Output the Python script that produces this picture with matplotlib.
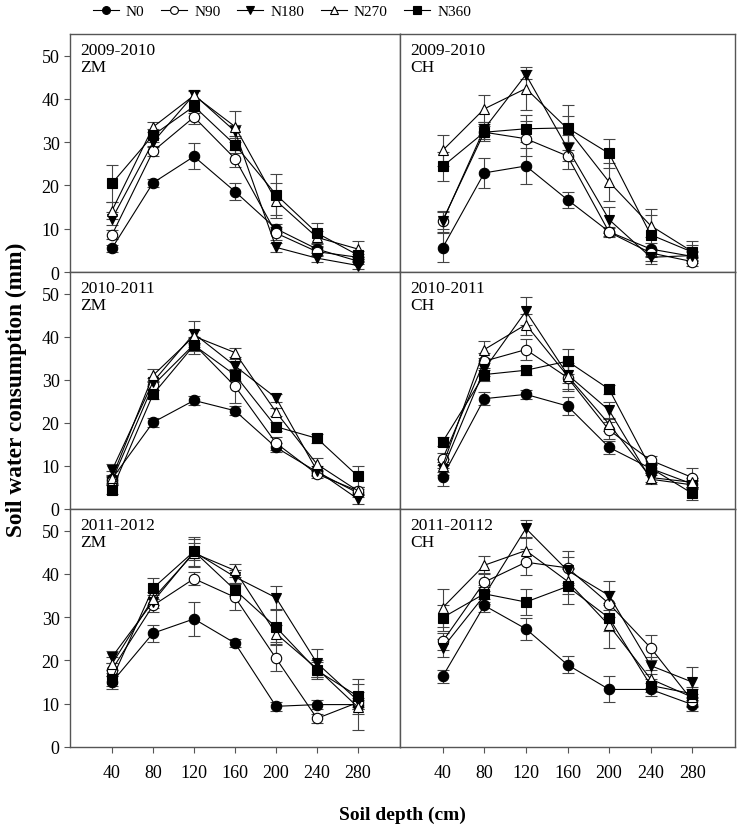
import matplotlib
matplotlib.use("Agg")
import matplotlib.pyplot as plt
import numpy as np

plt.rcParams['font.family'] = ['Liberation Serif', 'DejaVu Serif']

depth = [40, 80, 120, 160, 200, 240, 280]
series = ["N0", "N90", "N180", "N270", "N360"]

# ---- 2009-2010 ZM
p1_N0 = [5.5, 20.6, 26.7, 18.6, 10.0, 5.3, 2.5]
p1_N90 = [8.6, 27.9, 35.8, 26.2, 9.0, 4.7, 3.4]
p1_N180 = [12.3, 30.0, 41.0, 32.5, 5.7, 3.2, 1.5]
p1_N270 = [14.2, 33.5, 40.8, 33.6, 16.5, 8.0, 5.3]
p1_N360 = [20.5, 31.6, 38.3, 29.4, 17.9, 9.0, 3.9]
e1_N0 = [0.8, 1.0, 3.0, 2.0, 1.0, 0.8, 0.6]
e1_N90 = [1.0, 1.2, 1.5, 2.0, 1.5, 1.0, 0.8]
e1_N180 = [1.5, 1.0, 1.0, 1.5, 1.0, 0.8, 0.8]
e1_N270 = [2.0, 1.2, 1.0, 3.5, 4.0, 1.5, 1.8]
e1_N360 = [4.3, 1.5, 1.5, 2.0, 4.8, 2.3, 1.0]

# ---- 2009-2010 CH
p2_N0 = [5.6, 22.9, 24.5, 16.7, 9.3, 5.3, 3.6]
p2_N90 = [11.9, 32.3, 30.8, 26.8, 9.2, 4.4, 2.4]
p2_N180 = [11.7, 33.1, 45.6, 28.6, 12.1, 3.4, 3.8]
p2_N270 = [28.1, 37.7, 42.4, 33.1, 20.8, 10.7, 4.7]
p2_N360 = [24.4, 32.3, 33.1, 33.3, 27.4, 8.6, 4.6]
e2_N0 = [3.4, 3.4, 4.2, 1.8, 1.0, 1.5, 1.0]
e2_N90 = [2.0, 1.5, 4.0, 3.0, 1.0, 1.0, 1.0]
e2_N180 = [2.5, 1.5, 1.0, 3.0, 3.0, 1.5, 1.0]
e2_N270 = [3.5, 3.1, 5.0, 3.0, 4.5, 2.5, 1.5]
e2_N360 = [3.3, 2.0, 3.1, 5.2, 3.4, 6.0, 2.5]

# ---- 2010-2011 ZM
p3_N0 = [7.0, 20.1, 25.2, 22.8, 14.3, 8.6, 3.7]
p3_N90 = [6.6, 28.7, 38.2, 28.5, 15.3, 8.1, 4.2]
p3_N180 = [9.0, 29.5, 40.7, 33.2, 25.8, 8.9, 2.3]
p3_N270 = [7.3, 31.0, 40.1, 36.3, 22.5, 10.4, 4.2]
p3_N360 = [4.5, 26.6, 38.0, 31.1, 19.1, 16.4, 7.6]
e3_N0 = [1.0, 1.0, 1.0, 1.0, 1.0, 1.0, 1.0]
e3_N90 = [1.0, 1.0, 1.5, 3.8, 1.5, 1.0, 1.0]
e3_N180 = [1.5, 1.0, 3.0, 1.5, 1.0, 1.0, 1.2]
e3_N270 = [1.5, 1.5, 1.5, 1.0, 1.0, 1.5, 1.0]
e3_N360 = [1.0, 1.0, 2.0, 1.5, 1.0, 1.0, 2.4]

# ---- 2010-2011 CH
p4_N0 = [7.5, 25.6, 26.6, 23.9, 14.3, 9.4, 5.8]
p4_N90 = [11.6, 34.3, 37.0, 30.5, 18.3, 11.3, 7.3]
p4_N180 = [9.3, 32.4, 45.9, 31.2, 22.9, 6.9, 5.6]
p4_N270 = [10.0, 37.0, 42.8, 30.9, 19.7, 7.3, 6.2]
p4_N360 = [15.6, 31.2, 32.2, 34.3, 27.8, 9.5, 3.6]
e4_N0 = [2.1, 1.5, 1.0, 2.0, 1.5, 1.0, 1.0]
e4_N90 = [1.5, 2.0, 2.5, 3.0, 2.0, 1.0, 2.2]
e4_N180 = [1.5, 1.5, 3.3, 2.0, 2.0, 1.0, 1.0]
e4_N270 = [1.5, 2.0, 2.5, 3.0, 1.5, 1.0, 1.0]
e4_N360 = [1.0, 1.5, 1.0, 2.9, 1.0, 1.0, 1.5]

# ---- 2011-2012 ZM
p5_N0 = [15.0, 26.3, 29.6, 24.0, 9.4, 9.8, 9.8]
p5_N90 = [17.9, 32.7, 38.9, 34.6, 20.5, 6.6, 10.3]
p5_N180 = [20.8, 33.6, 45.1, 39.3, 34.5, 19.4, 10.7]
p5_N270 = [19.2, 34.3, 44.8, 40.8, 26.2, 18.1, 9.2]
p5_N360 = [15.7, 36.7, 45.2, 36.3, 27.7, 17.7, 11.7]
e5_N0 = [1.5, 2.0, 3.9, 1.0, 1.0, 1.0, 1.0]
e5_N90 = [1.5, 1.5, 1.5, 3.0, 3.0, 1.0, 1.0]
e5_N180 = [1.5, 1.5, 2.0, 1.5, 2.6, 3.3, 2.0]
e5_N270 = [1.5, 1.5, 3.3, 1.5, 2.0, 2.0, 5.3]
e5_N360 = [1.5, 2.4, 3.3, 1.5, 3.9, 2.0, 4.0]

# ---- 2011-20112 CH
p6_N0 = [16.3, 32.7, 27.3, 19.0, 13.3, 13.3, 9.8]
p6_N90 = [24.4, 38.1, 42.7, 41.4, 33.1, 22.9, 10.7]
p6_N180 = [22.9, 35.0, 50.5, 40.8, 35.0, 18.8, 15.0]
p6_N270 = [32.2, 42.0, 45.4, 38.3, 28.1, 15.7, 11.5]
p6_N360 = [29.9, 35.4, 33.5, 37.1, 29.8, 14.2, 12.3]
e6_N0 = [1.5, 1.5, 2.5, 2.0, 3.0, 1.5, 1.5]
e6_N90 = [2.0, 2.0, 3.0, 4.0, 3.0, 2.9, 1.5]
e6_N180 = [2.0, 2.0, 2.0, 3.0, 3.3, 2.0, 3.4]
e6_N270 = [4.4, 2.1, 3.0, 3.0, 5.2, 2.0, 2.0]
e6_N360 = [3.0, 2.0, 3.0, 4.0, 3.0, 1.5, 1.5]

panel_labels = ["2009-2010\nZM", "2009-2010\nCH", "2010-2011\nZM",
                "2010-2011\nCH", "2011-2012\nZM", "2011-20112\nCH"]
panel_values = [
    [p1_N0, p1_N90, p1_N180, p1_N270, p1_N360],
    [p2_N0, p2_N90, p2_N180, p2_N270, p2_N360],
    [p3_N0, p3_N90, p3_N180, p3_N270, p3_N360],
    [p4_N0, p4_N90, p4_N180, p4_N270, p4_N360],
    [p5_N0, p5_N90, p5_N180, p5_N270, p5_N360],
    [p6_N0, p6_N90, p6_N180, p6_N270, p6_N360],
]
panel_errors = [
    [e1_N0, e1_N90, e1_N180, e1_N270, e1_N360],
    [e2_N0, e2_N90, e2_N180, e2_N270, e2_N360],
    [e3_N0, e3_N90, e3_N180, e3_N270, e3_N360],
    [e4_N0, e4_N90, e4_N180, e4_N270, e4_N360],
    [e5_N0, e5_N90, e5_N180, e5_N270, e5_N360],
    [e6_N0, e6_N90, e6_N180, e6_N270, e6_N360],
]

markers = ['o', 'o', 'v', '^', 's']
faces = ['black', 'white', 'black', 'white', 'black']

W, H = 737, 829
fig = plt.figure(figsize=(W / 100, H / 100), dpi=100)

cols = [(70, 400), (400, 735)]
rows = [(35, 273), (273, 510), (510, 748)]
frame_col = '#555555'

handles = []
for i in range(6):
    r, c = divmod(i, 2)
    x0, x1 = cols[c]
    y0, y1 = rows[r]
    ax = fig.add_axes([x0 / W, 1 - y1 / H, (x1 - x0) / W, (y1 - y0) / H])
    for k in range(5):
        ax.errorbar(depth, panel_values[i][k], yerr=panel_errors[i][k],
                    fmt='none', ecolor='#444444', elinewidth=0.8,
                    capsize=4, capthick=0.8, zorder=2)
        ln, = ax.plot(depth, panel_values[i][k], color='black', lw=0.8,
                      marker=markers[k], markersize=7.5,
                      markerfacecolor=faces[k], markeredgecolor='black',
                      markeredgewidth=0.8, zorder=3 + k, label=series[k])
        if i == 0:
            handles.append(ln)
    ax.set_xlim(-1, 321)
    ax.set_ylim(0, 55)
    for sp in ax.spines.values():
        sp.set_color(frame_col)
        sp.set_linewidth(1.0)
    ax.text(0.03, 0.965, panel_labels[i], transform=ax.transAxes,
            ha='left', va='top', fontsize=12.5, linespacing=1.05)
    if c == 0:
        ax.set_yticks([0, 10, 20, 30, 40, 50])
        ax.tick_params(axis='y', direction='out', length=4, color=frame_col,
                       labelsize=13)
    else:
        ax.set_yticks([])
    if r == 2:
        ax.set_xticks(depth)
        ax.tick_params(axis='x', direction='out', length=4, color=frame_col,
                       labelsize=13, pad=8)
    else:
        ax.set_xticks([])

fig.legend(handles=handles, labels=series, loc='center', ncol=5,
           bbox_to_anchor=(282 / W, 1 - 12 / H), frameon=False,
           fontsize=11, handlelength=1.7, handletextpad=0.45,
           columnspacing=1.1, markerscale=0.75)

fig.text(16 / W, 1 - 390 / H, "Soil water consumption (mm)", rotation=90,
         ha='center', va='center', fontsize=16.8, fontweight='bold')
fig.text(402 / W, 1 - 815 / H, "Soil depth (cm)", ha='center', va='center',
         fontsize=14, fontweight='bold')

fig.savefig("out.png", dpi=100)
